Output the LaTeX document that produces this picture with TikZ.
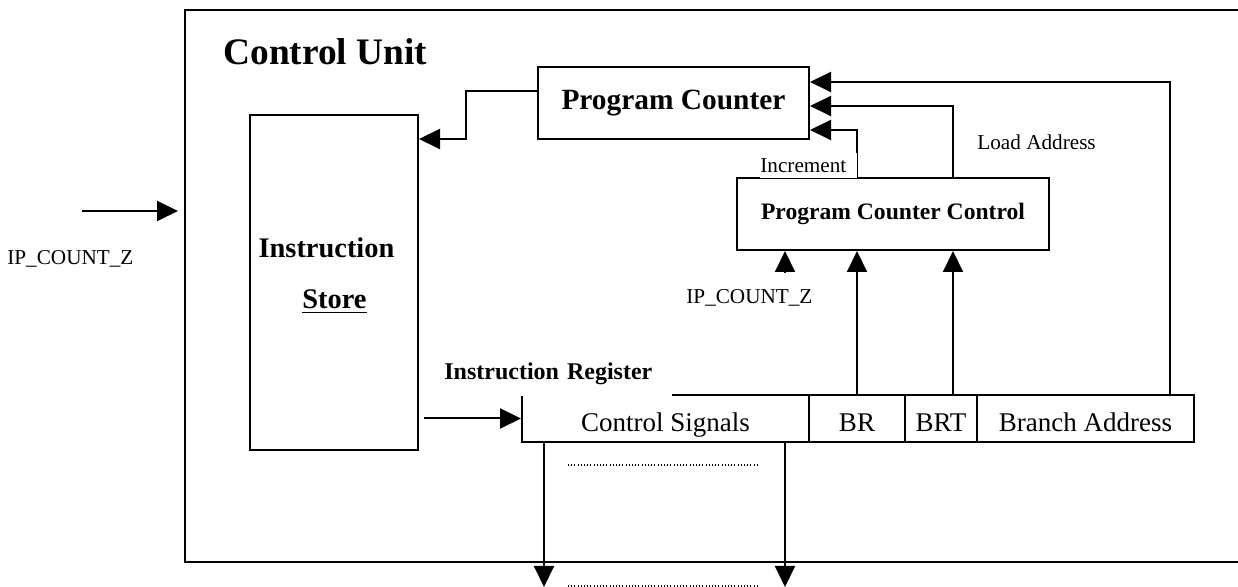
\documentclass[tikz,border=0pt]{standalone}
\usepackage{fontspec}
\setmainfont{Liberation Serif}
\usetikzlibrary{arrows.meta}
\tikzset{
blk/.style={draw, line width=1pt, inner sep=0pt},
fld/.style={draw, line width=1pt, minimum height=23.5pt, text height=13.5pt, text depth=0pt, font=\fontsize{13.5}{16}\selectfont},
arr/.style={line width=1pt, -{Triangle[length=10.5pt,width=10pt]}},
sml/.style={inner sep=0pt, font=\fontsize{10.6}{12}\selectfont},
dotline/.style={line width=0.7pt, dash pattern=on 0.5pt off 1.1pt},
}
\begin{document}
\begin{tikzpicture}[x=0.5pt,y=-0.5pt]
\useasboundingbox (0,0) rectangle (1238,587);
\node[blk, minimum width=532.5pt, minimum height=276pt] (cu) at (717.5,286.25){};
\node[anchor=base west, inner sep=0pt, font=\fontsize{18.7}{22}\selectfont\bfseries] (cutitle) at (223,65){Control Unit};
\node[blk, minimum width=84pt, minimum height=167.5pt] (istore) at (334,282.5){};
\node[anchor=base, inner sep=0pt, font=\fontsize{14.2}{17}\selectfont\bfseries] (istoretop) at (326.5,258){Instruction};
\node[anchor=base, inner sep=0pt, font=\fontsize{14.2}{17}\selectfont\bfseries] (istorebot) at (334.5,309){\underline{Store}};
\node[blk, minimum width=135.5pt, minimum height=36pt, font=\fontsize{14.7}{17}\selectfont\bfseries] (pc) at (673.5,103){Program Counter};
\node[blk, minimum width=156pt, minimum height=36pt, font=\fontsize{11.8}{14}\selectfont\bfseries] (pcc) at (893,214){Program Counter Control};
\node[fld, minimum width=143.5pt] (cs) at (665.5,418.5){Control Signals};
\node[fld, minimum width=48pt] (br) at (857,418.5){BR};
\node[fld, minimum width=36pt] (brt) at (941,418.5){BRT};
\node[fld, minimum width=108.5pt] (ba) at (1085.5,418.5){Branch Address};
\coordinate (ipin) at (82,211);
\coordinate (irin) at (424,418.5);
\coordinate (ipcz) at (785,273);
\coordinate (brtup) at ([xshift=6pt]brt.north);
\coordinate (baup) at ([xshift=42.25pt]ba.north);
\coordinate (cso1) at (544,587);
\coordinate (cso2) at (785,587);
\draw[arr, shorten >=3pt](ipin) -- (ipin -| cu.west);
\draw[arr](irin) -- (cs.west);
\draw[arr]([yshift=6pt]pc.west) -- ++(-71,0) |- ([yshift=71.75pt]istore.east);
\draw[arr](baup) |- ([yshift=10.5pt]pc.east);
\draw[arr]([xshift=30pt]pcc.north) |- ([yshift=-1.5pt]pc.east);
\draw[arr]([xshift=-18pt]pcc.north) |- ([yshift=-13.5pt]pc.east);
\draw[arr](ipcz) -- (ipcz |- pcc.south);
\draw[arr](br.north) -- (br.north |- pcc.south);
\draw[arr](brtup) -- (brtup |- pcc.south);
\draw[arr](cso1 |- cs.south) -- (cso1);
\draw[arr](cso2 |- cs.south) -- (cso2);
\draw[dotline](568,465) -- (759,465);
\draw[dotline](568,586) -- (759,586);
\node[sml, fill=white, anchor=south west, text width=48.5pt, minimum height=12.5pt, align=left] (incr) at ([xshift=12pt,yshift=-0.6pt]pcc.north west){Increment};
\node[sml, anchor=base west] (ldaddr) at (977,150){Load Address};
\node[sml, anchor=base west] (ipczlbl) at (686,304){IP\_COUNT\_Z};
\node[sml, anchor=base west] (ipinlbl) at (7,265){IP\_COUNT\_Z};
\node[fill=white, anchor=base west, inner xsep=4pt, inner ysep=1pt, text depth=7.1pt, text width=110pt, align=left, font=\fontsize{12}{14}\selectfont\bfseries] (irlbl) at (436,380){Instruction Register};
\end{tikzpicture}
\end{document}
